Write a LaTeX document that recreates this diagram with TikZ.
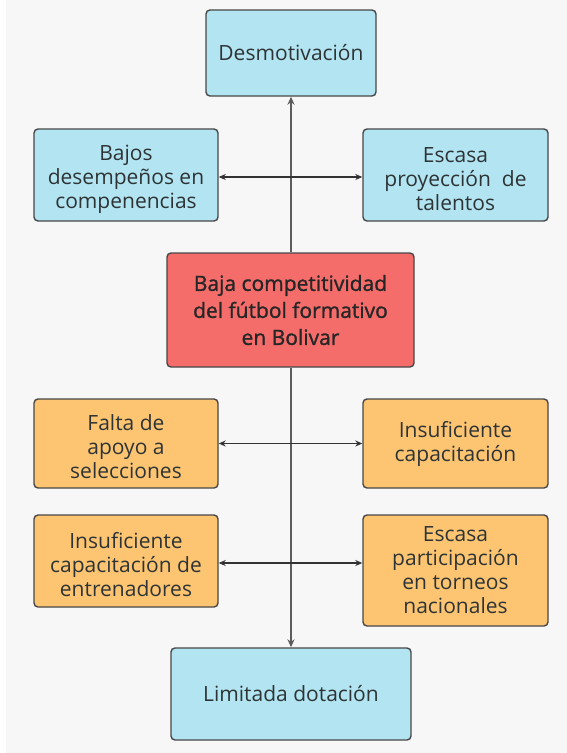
\documentclass[tikz,border=0pt]{standalone}
\usepackage{fontspec}
\setmainfont{Open Sans}
\newfontfamily\medfont[FakeBold=1.2]{Open Sans}
\usetikzlibrary{arrows.meta}
\definecolor{bgc}{HTML}{F7F7F7}
\definecolor{cyanf}{HTML}{B2E5F1}
\definecolor{orangef}{HTML}{FDC571}
\definecolor{redf}{HTML}{F56D6B}
\definecolor{edgec}{HTML}{474747}
\definecolor{txtc}{HTML}{2E3436}
\definecolor{linec}{HTML}{5C5C5C}
\definecolor{arrc}{HTML}{333333}
\tikzset{
  box/.style={draw=edgec, line width=1.4pt, rounded corners=4pt, align=center,
    text=txtc, inner sep=0pt, font=\fontsize{21}{24}\selectfont},
  cbox/.style={box, fill=cyanf},
  obox/.style={box, fill=orangef},
  rbox/.style={box, fill=redf, text=black!85, font=\fontsize{21}{27}\selectfont\medfont},
  txt/.style={align=center, text=txtc, inner sep=0pt, font=\fontsize{21}{24}\selectfont},
  harrow/.style={arrc, line width=1.4pt, {Stealth[length=7pt,width=6pt]}-{Stealth[length=7pt,width=6pt]}},
  varrow/.style={linec, line width=1.8pt, -{Stealth[length=8pt,width=7pt]}}
}
\begin{document}
\begin{tikzpicture}[x=1pt,y=-1pt]
\useasboundingbox (0,0) rectangle (567,753);
\fill[white] (0,0) rectangle (567,753);
\fill[bgc] (6,0) rectangle (567,753);

\node[cbox, minimum width=170pt, minimum height=86pt] (des) at (291,53) {Desmotivación};
\node[cbox, minimum width=184pt, minimum height=92pt] (baj) at (126,175) {};
\node[txt] (bajt) at ([yshift=-4pt]baj.center) {Bajos\\desempeños en\\compenencias};
\node[cbox, minimum width=185pt, minimum height=92pt] (esc) at (455.5,175) {};
\node[txt] (esct) at ([yshift=-4pt]esc.center) {Escasa\\proyección\ \ de\\talentos};
\node[rbox, minimum width=247pt, minimum height=114pt] (red) at (290.5,310) {Baja competitividad\\del fútbol formativo\\en Bolivar};
\node[obox, minimum width=184pt, minimum height=89pt] (fal) at (126,443.5) {};
\node[txt] (falt) at ([yshift=-3.5pt]fal.center) {Falta de\\apoyo a\\selecciones};
\node[obox, minimum width=185pt, minimum height=89pt] (ins) at (455.5,443.5) {Insuficiente\\capacitación};
\node[obox, minimum width=184pt, minimum height=92pt] (ent) at (126,561) {};
\node[txt] (entt) at ([yshift=-3.5pt]ent.center) {Insuficiente\\capacitación de\\entrenadores};
\node[obox, minimum width=185pt, minimum height=111pt] (par) at (455.5,570.5) {Escasa\\participación\\en torneos\\nacionales};
\node[cbox, minimum width=240pt, minimum height=92pt] (lim) at (291,694) {Limitada dotación};

\draw[varrow] (red.north -| des.south) -- (des.south);
\draw[varrow] (red.south -| lim.north) -- (lim.north);
\draw[harrow] ([yshift=-2pt]baj.east) -- ([yshift=-2pt]baj.east -| esc.west);
\draw[harrow] (fal.east) -- (ins.west);
\draw[harrow] ([yshift=-2pt]ent.east) -- ([yshift=-2pt]ent.east -| par.west);
\end{tikzpicture}
\end{document}
